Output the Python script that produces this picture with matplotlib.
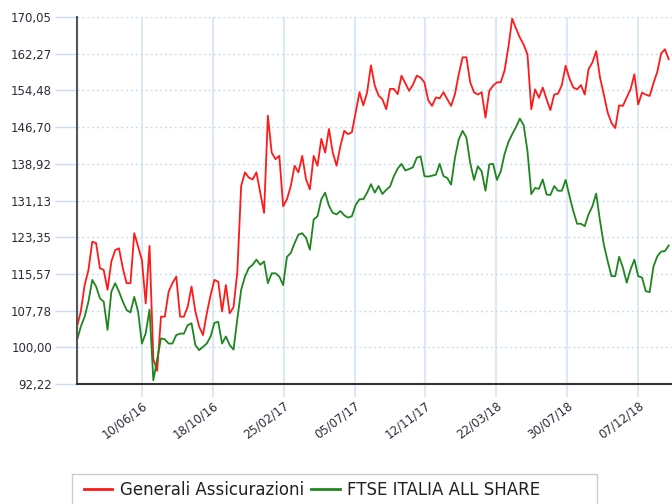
import numpy as np
import pandas as pd
import matplotlib
matplotlib.use("Agg")
import matplotlib.pyplot as plt
from matplotlib.patches import Rectangle

# weekly readings, first week 12/02/2016
start = "2016-02-12"
generali = [
    104.4, 107.6, 113.2, 116.4, 122.4, 122.1, 116.8, 116.4, 112.2, 118.2,
    120.6, 121.0, 116.8, 113.6, 113.6, 124.2, 121.4, 118.5, 109.3, 121.5,
    97.5, 95.0, 106.5, 106.5, 111.8, 113.6, 115.0, 106.5, 106.5, 108.6,
    112.9, 107.6, 104.4, 102.6, 107.2, 111.1, 114.3, 113.9, 107.6, 113.2,
    107.2, 108.5, 116.0, 134.2, 137.1, 136.0, 135.6, 137.1, 132.8, 128.5,
    149.1, 141.3, 139.9, 140.6, 129.9, 131.4, 134.2, 138.5, 137.1, 140.6,
    135.6, 133.5, 140.6, 138.5, 144.2, 141.3, 146.3, 141.3, 138.5, 142.7,
    145.9, 145.2, 145.6, 149.9, 154.1, 151.3, 154.1, 159.8, 155.5, 153.4,
    152.6, 150.5, 154.8, 154.8, 153.7, 157.6, 156.0, 154.4, 155.7, 157.6,
    157.2, 156.2, 152.4, 151.2, 153.0, 152.8, 154.1, 152.6, 151.2, 153.7,
    157.9, 161.5, 161.5, 156.2, 154.1, 153.6, 154.1, 148.7, 154.4, 155.5,
    156.2, 156.2, 158.7, 163.7, 169.7, 167.6, 165.7, 164.2, 162.1, 150.5,
    154.7, 152.9, 155.1, 152.6, 150.3, 153.6, 153.8, 155.6, 159.7, 157.0,
    155.1, 154.7, 155.6, 153.6, 159.0, 160.4, 162.8, 157.2, 153.6, 149.8,
    147.6, 146.5, 151.3, 151.2, 153.0, 154.7, 157.9, 151.5, 154.0, 153.6,
    153.3, 156.0, 158.4, 162.3, 163.2, 161.1,
]
ftse = [
    101.5, 104.4, 106.5, 109.7, 114.3, 112.9, 110.4, 109.7, 103.7, 111.8,
    113.6, 111.8, 109.7, 107.9, 107.4, 110.7, 107.6, 100.8, 103.0, 108.0,
    93.0, 97.5, 101.9, 101.7, 100.8, 100.8, 102.6, 102.9, 102.9, 104.7,
    105.1, 100.5, 99.4, 100.1, 100.8, 102.3, 105.2, 105.4, 100.8, 102.3,
    100.5, 99.5, 106.0, 112.2, 115.0, 116.8, 117.5, 118.6, 117.5, 118.2,
    113.6, 115.7, 115.7, 115.0, 113.2, 119.2, 120.0, 122.1, 123.9, 124.2,
    123.2, 120.7, 127.1, 127.8, 131.4, 132.8, 130.0, 128.5, 128.2, 128.9,
    128.0, 127.5, 127.8, 130.2, 131.4, 131.4, 132.8, 134.6, 132.8, 134.2,
    132.5, 133.4, 134.1, 136.3, 137.9, 138.9, 137.5, 137.8, 138.2, 140.2,
    140.5, 136.3, 136.2, 136.4, 136.6, 138.9, 136.3, 135.9, 134.5, 140.2,
    144.1, 145.9, 144.5, 139.1, 135.5, 138.4, 137.3, 133.2, 138.8, 138.9,
    135.5, 137.3, 141.0, 143.5, 145.2, 146.7, 148.5, 147.1, 141.6, 132.5,
    133.8, 133.6, 135.6, 132.4, 132.3, 134.2, 133.2, 133.2, 135.5, 132.1,
    128.9, 126.2, 126.2, 125.7, 128.2, 129.9, 132.6, 126.8, 121.8, 118.3,
    115.1, 115.1, 119.2, 116.9, 113.7, 116.5, 118.6, 115.1, 114.8, 111.9,
    111.7, 117.1, 119.3, 120.3, 120.4, 121.6,
]
tick_dates = ["2016-06-10", "2016-10-18", "2017-02-25", "2017-07-05",
              "2017-11-12", "2018-03-22", "2018-07-30", "2018-12-07"]
y_ticks = [92.22, 100.00, 107.78, 115.57, 123.35, 131.13,
           138.92, 146.70, 154.48, 162.27, 170.05]

dates = pd.date_range(start, periods=len(generali), freq="7D")
ticks = pd.to_datetime(tick_dates)

W, H = 672, 504
fig = plt.figure(figsize=(W / 100, H / 100), dpi=100)
ax = fig.add_axes([77 / W, 1 - 384 / H, (W - 77) / W, (384 - 17) / H])

ax.plot(dates, generali, color="#ff1a1a", lw=1.3, label="Generali Assicurazioni")
ax.plot(dates, ftse, color="#1f861f", lw=1.3, label="FTSE ITALIA ALL SHARE")

ax.set_xlim(pd.Timestamp(start), pd.Timestamp("2019-02-07"))
ax.set_ylim(y_ticks[0], y_ticks[-1])

ax.set_yticks(y_ticks)
ax.set_yticklabels([f"{v:.2f}".replace(".", ",") for v in y_ticks])
ax.set_xticks(ticks)
ax.set_xticklabels([d.strftime("%d/%m/%y") for d in ticks],
                   rotation=37, ha="right", rotation_mode="anchor")

grid_blue = "#dce8f7"
for t in ticks:
    ax.axvline(t, color=grid_blue, lw=1.5, zorder=0)
for v in y_ticks[1:]:
    ax.axhline(v, color="#c9dcf3", lw=1, ls=(0, (1.5, 2)), zorder=0)

ax.tick_params(axis="y", length=16, width=1, color="#c9dcf3", pad=2,
               labelsize=8.5, labelcolor="#2b2b3a")
ax.tick_params(axis="x", length=9, width=1.5, color=grid_blue, pad=2,
               labelsize=8.5, labelcolor="#2b2b3a")

for s in ["top", "right"]:
    ax.spines[s].set_visible(False)
ax.spines["left"].set_color("#555555")
ax.spines["left"].set_linewidth(1.5)
ax.spines["bottom"].set_color("#333333")
ax.spines["bottom"].set_linewidth(1.5)

# legend box, wider than its entries, runs off the bottom edge
fig.patches.append(Rectangle((72 / W, 1 - 512 / H), (597 - 72) / W, 38 / H,
                             transform=fig.transFigure, facecolor="white",
                             edgecolor="#cccccc", lw=1, zorder=0))
leg = fig.legend(loc="upper left", bbox_to_anchor=(84 / W, 1 - 481 / H),
                 ncol=2, frameon=False, fontsize=12, borderaxespad=0,
                 borderpad=0, handlelength=1.7, columnspacing=0.45,
                 handletextpad=0.45)
for line in leg.get_lines():
    line.set_linewidth(2)
for txt in leg.get_texts():
    txt.set_color("#222222")

fig.savefig("out.png", dpi=100)
